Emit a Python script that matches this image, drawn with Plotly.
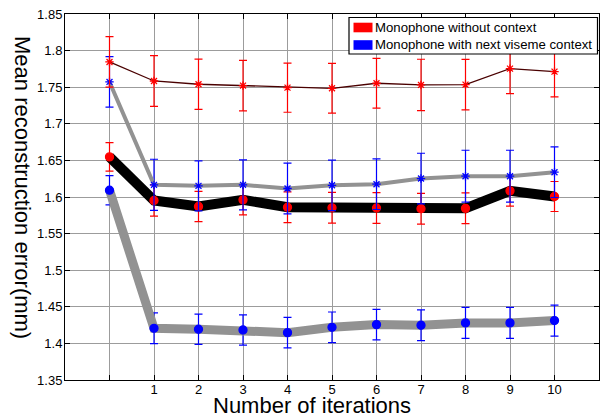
import plotly.graph_objects as go

# ---- data ----
iterations = [0, 1, 2, 3, 4, 5, 6, 7, 8, 9, 10]
tick_labels = ["", "1", "2", "3", "4", "5", "6", "7", "8", "9", "10"]

# Monophone without context (upper red curve, thin line with stars)
red_star_vals = [1.7845, 1.7585, 1.7540, 1.7522, 1.7494, 1.7485, 1.7554, 1.7531, 1.7535, 1.7754, 1.7713]
red_star_err = [0.0345, 0.0346, 0.0344, 0.0345, 0.0336, 0.0340, 0.0341, 0.0351, 0.0345, 0.0341, 0.0346]

# Monophone with next viseme context (grey line with stars)
blue_star_vals = [1.7572, 1.6166, 1.6152, 1.6166, 1.6116, 1.6160, 1.6175, 1.6252, 1.6284, 1.6284, 1.6339]
blue_star_err = [0.0345, 0.0350, 0.0341, 0.0341, 0.0346, 0.0345, 0.0346, 0.0346, 0.0355, 0.0355, 0.0346]

# Monophone without context (thick black line with circles)
red_dot_vals = [1.6548, 1.5952, 1.5870, 1.5961, 1.5861, 1.5852, 1.5850, 1.5840, 1.5845, 1.6084, 1.6007]
red_dot_err = [0.0195, 0.0214, 0.0207, 0.0205, 0.0210, 0.0210, 0.0210, 0.0210, 0.0210, 0.0210, 0.0205]

# Monophone with next viseme context (thick grey line with circles)
blue_dot_vals = [1.6093, 1.4206, 1.4193, 1.4183, 1.4147, 1.4220, 1.4257, 1.4248, 1.4280, 1.4280, 1.4312]
blue_dot_err = [0.0200, 0.0210, 0.0207, 0.0207, 0.0209, 0.0209, 0.0209, 0.0209, 0.0211, 0.0211, 0.0212]

y_ticks = [1.35, 1.4, 1.45, 1.5, 1.55, 1.6, 1.65, 1.7, 1.75, 1.8, 1.85]
y_tick_text = ["1.35", "1.4", "1.45", "1.5", "1.55", "1.6", "1.65", "1.7", "1.75", "1.8", "1.85"]

legend_names = ["Monophone without context", "Monophone with next viseme context"]
legend_colors = ["#ff0000", "#0000ff"]

# ---- layout geometry ----
W, H = 600, 415
L, R, T, B = 65, 1, 14, 35
PW, PH = W - L - R, H - T - B


def px(x):
    return (x - L) / PW


def py(y):
    return (H - B - y) / PH


GREY = "#929292"
fig = go.Figure()


def add_series(vals, errs, line_color, line_width, color, symbol, msize):
    fig.add_trace(go.Scatter(
        x=iterations, y=vals, mode="lines+markers",
        line=dict(color=line_color, width=line_width),
        marker=dict(symbol=symbol, size=msize, color=color,
                    line=dict(color=color, width=1.3)),
        error_y=dict(type="data", array=errs, visible=True,
                     color=color, thickness=1.2, width=4),
        showlegend=False, cliponaxis=False, hoverinfo="skip",
    ))


add_series(blue_dot_vals, blue_dot_err, GREY, 9, "#0000ff", "circle", 8)
add_series(red_dot_vals, red_dot_err, "#000000", 10, "#ff0000", "circle", 8)
add_series(blue_star_vals, blue_star_err, GREY, 4, "#0000ff", "asterisk-open", 7)
add_series(red_star_vals, red_star_err, "#4a0000", 1.3, "#ff0000", "asterisk-open", 7)

axis_common = dict(
    showline=True, linecolor="black", linewidth=1, mirror="ticks",
    ticks="inside", ticklen=5, tickcolor="black",
    showgrid=True, gridcolor="#9c9c9c", gridwidth=1, zeroline=False,
    tickfont=dict(family="Liberation Sans, Arial", size=13, color="black"),
)

fig.update_layout(
    width=W, height=H,
    margin=dict(l=L, r=R, t=T, b=B),
    paper_bgcolor="white", plot_bgcolor="white",
    xaxis=dict(range=[-1, 11], tickmode="array", tickvals=iterations,
               ticktext=tick_labels, ticklabelstandoff=-3, **axis_common),
    yaxis=dict(range=[1.35, 1.85], tickmode="array", tickvals=y_ticks,
               ticktext=y_tick_text, ticklabelstandoff=-1, **axis_common),
    font=dict(family="Liberation Sans, Arial", color="black"),
)

# axis titles
fig.add_annotation(text="Number of iterations", xref="paper", yref="paper",
                   x=px(312), y=py(405), showarrow=False,
                   font=dict(size=22, color="black"), xanchor="center", yanchor="middle")
fig.add_annotation(text="Mean reconstruction error(mm)", xref="paper", yref="paper",
                   x=px(23), y=py(187), showarrow=False, textangle=90,
                   font=dict(size=22, color="black"), xanchor="center", yanchor="middle")

# legend box (drawn manually to match patch style)
fig.add_shape(type="rect", xref="paper", yref="paper",
              x0=px(349), x1=px(597.5), y0=py(54), y1=py(17.5),
              line=dict(color="black", width=1.2), fillcolor="white", layer="above")
rows = [27.5, 45]
for name, col, yc in zip(legend_names, legend_colors, rows):
    fig.add_shape(type="rect", xref="paper", yref="paper",
                  x0=px(353.5), x1=px(372.5), y0=py(yc + 4.8), y1=py(yc - 4.8),
                  line=dict(color=col, width=0), fillcolor=col, layer="above")
    fig.add_annotation(text=name, xref="paper", yref="paper",
                       x=px(373), y=py(yc), showarrow=False,
                       xanchor="left", yanchor="middle",
                       font=dict(size=13.2, color="black"))

fig.write_html("out.html",
               config={"displayModeBar": False},
               post_script="document.body.style.margin='0';document.body.style.overflow='hidden';")
